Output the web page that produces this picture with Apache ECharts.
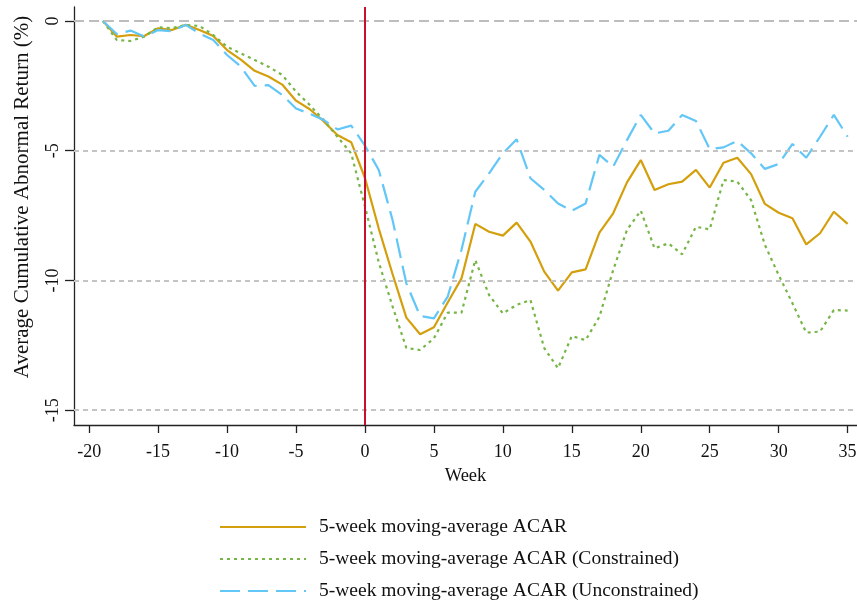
<!DOCTYPE html>
<html>
<head>
<meta charset="utf-8">
<script src="https://cdn.jsdelivr.net/npm/echarts@6/dist/echarts.min.js"></script>
<style>
html,body{margin:0;padding:0;background:#fff;}
#chart{width:857px;height:607px;}
</style>
</head>
<body>
<div id="chart"></div>
<script>
const weeks = [];
for (let w = -19; w <= 35; w++) weeks.push(w);

const acar = [0, -0.60, -0.54, -0.58, -0.28, -0.35, -0.15, -0.35, -0.58, -1.12,
  -1.49, -1.92, -2.14, -2.45, -3.07, -3.40, -3.86, -4.39, -4.67, -6.05,
  -8.0, -9.75, -11.43, -12.07, -11.8, -10.85, -9.92, -7.82, -8.12, -8.27,
  -7.77, -8.5, -9.66, -10.39, -9.69, -9.57, -8.16, -7.41, -6.22, -5.36,
  -6.51, -6.29, -6.19, -5.74, -6.42, -5.46, -5.27, -5.9, -7.05, -7.39,
  -7.6, -8.61, -8.18, -7.35, -7.82];

const acarConstrained = [0, -0.73, -0.77, -0.6, -0.24, -0.28, -0.15, -0.19, -0.54, -0.99,
  -1.25, -1.5, -1.76, -2.08, -2.72, -3.24, -3.81, -4.46, -5.1, -7.15,
  -9.3, -11.0, -12.6, -12.68, -12.23, -11.24, -11.24, -9.21, -10.56, -11.27,
  -10.94, -10.75, -12.61, -13.38, -12.14, -12.3, -11.4, -9.6, -8.05, -7.31,
  -8.76, -8.57, -8.99, -7.93, -8.03, -6.13, -6.19, -6.9, -8.63, -9.79,
  -10.88, -12.01, -11.97, -11.14, -11.16];

const acarUnconstrained = [0, -0.5, -0.37, -0.6, -0.35, -0.39, -0.15, -0.48, -0.73, -1.31,
  -1.76, -2.5, -2.47, -2.85, -3.37, -3.58, -3.81, -4.18, -4.03, -4.8,
  -5.74, -7.67, -10.11, -11.37, -11.46, -10.62, -8.82, -6.58, -5.87, -5.1,
  -4.56, -6.06, -6.51, -7.03, -7.31, -7.03, -5.16, -5.61, -4.59, -3.62,
  -4.33, -4.23, -3.62, -3.85, -4.94, -4.87, -4.62, -5.1, -5.7, -5.51,
  -4.74, -5.27, -4.46, -3.62, -4.46];

const xTicks = [-20, -15, -10, -5, 0, 5, 10, 15, 20, 25, 30, 35];
const yTicks = [0, -5, -10, -15];

const seriesNames = [
  '5-week moving-average ACAR',
  '5-week moving-average ACAR (Constrained)',
  '5-week moving-average ACAR (Unconstrained)'
];
const yTitle = 'Average Cumulative Abnormal Return (%)';
const xTitle = 'Week';

const pair = (arr) => weeks.map((w, i) => [w, arr[i]]);
const FONT = 'Liberation Serif';

const chart = echarts.init(document.getElementById('chart'), null, {renderer: 'canvas'});
chart.setOption({
  animation: false,
  backgroundColor: '#ffffff',
  textStyle: {fontFamily: FONT},
  grid: {left: 74, top: 7, right: 0, bottom: 182, containLabel: false, outerBoundsMode: 'none'},
  xAxis: {
    type: 'value',
    min: -21.1,
    max: 35.68,
    name: xTitle,
    nameLocation: 'middle',
    nameGap: 42,
    nameTextStyle: {fontFamily: FONT, fontSize: 18.5, color: '#111'},
    axisLine: {show: true, onZero: false, lineStyle: {color: '#222', width: 1.3}},
    axisTick: {show: true, length: 8, customValues: xTicks, lineStyle: {color: '#222', width: 1.3}},
    axisLabel: {customValues: xTicks, fontFamily: FONT, fontSize: 18, color: '#111', margin: 18},
    splitLine: {show: false}
  },
  yAxis: {
    type: 'value',
    min: -15.57,
    max: 0.54,
    axisLine: {show: true, onZero: false, lineStyle: {color: '#222', width: 1.3}},
    axisTick: {show: true, length: 9, customValues: yTicks, lineStyle: {color: '#222', width: 1.3}},
    axisLabel: {customValues: yTicks, rotate: 90, fontFamily: FONT, fontSize: 18, color: '#111', margin: 12},
    splitLine: {show: false}
  },
  graphic: [{
    type: 'text',
    x: 22,
    y: 197,
    rotation: Math.PI / 2,
    silent: true,
    style: {
      text: yTitle,
      fontFamily: FONT,
      fontSize: 21,
      fill: '#111',
      align: 'center',
      verticalAlign: 'middle'
    }
  }],
  legend: {
    orient: 'vertical',
    left: 219,
    top: 517,
    height: 90,
    padding: 0,
    itemWidth: 86,
    itemHeight: 14,
    itemGap: 12,
    data: seriesNames,
    itemStyle: {opacity: 0},
    textStyle: {fontFamily: FONT, fontSize: 19.5, lineHeight: 20, color: '#111', padding: [0, 0, 0, 8]}
  },
  series: [
    {
      type: 'line',
      name: '__grid',
      data: [],
      silent: true,
      z: 1,
      markLine: {
        silent: true,
        symbol: ['none', 'none'],
        label: {show: false},
        data: [
          {yAxis: 0, lineStyle: {color: '#bdbdbd', width: 2, type: [10, 5]}},
          {yAxis: -5, lineStyle: {color: '#c4c4c4', width: 2, type: [5, 4]}},
          {yAxis: -10, lineStyle: {color: '#c4c4c4', width: 2, type: [5, 4]}},
          {yAxis: -15, lineStyle: {color: '#c4c4c4', width: 2, type: [5, 4]}}
        ]
      }
    },
    {
      type: 'line',
      name: seriesNames[0],
      data: pair(acar),
      showSymbol: false,
      symbol: 'none',
      color: '#d49f0c',
      lineStyle: {color: '#d49f0c', width: 2.2, type: 'solid'},
      z: 3
    },
    {
      type: 'line',
      name: seriesNames[1],
      data: pair(acarConstrained),
      showSymbol: false,
      symbol: 'none',
      color: '#76b546',
      lineStyle: {color: '#76b546', width: 2.2, type: [3, 4]},
      z: 3
    },
    {
      type: 'line',
      name: seriesNames[2],
      data: pair(acarUnconstrained),
      showSymbol: false,
      symbol: 'none',
      color: '#62c6f7',
      lineStyle: {color: '#62c6f7', width: 2.2, type: [20, 8]},
      z: 3
    },
    {
      type: 'line',
      name: '__event',
      data: [],
      silent: true,
      z: 4,
      markLine: {
        silent: true,
        symbol: ['none', 'none'],
        label: {show: false},
        data: [{xAxis: 0, lineStyle: {color: '#c8102e', width: 2, type: 'solid'}}]
      }
    }
  ]
});
</script>
</body>
</html>
